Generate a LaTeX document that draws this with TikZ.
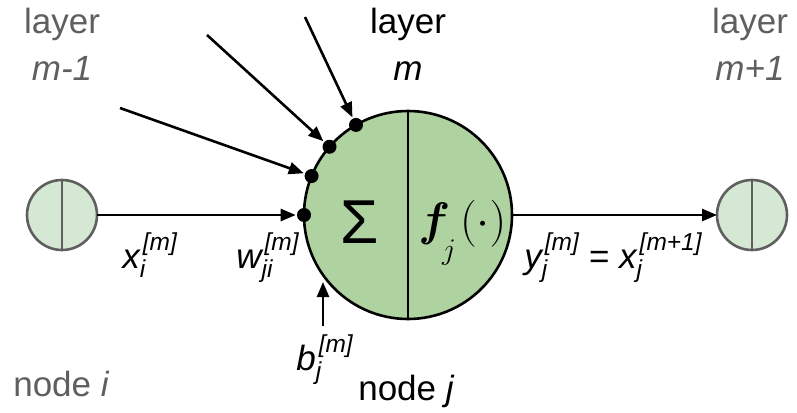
\RequirePackage{fix-cm}
\documentclass[tikz,border=0pt]{standalone}
\usepackage{amsmath}
\usepackage{bm}
\usepackage[no-math]{fontspec}
\setmainfont{Liberation Sans}
\usepackage{xcolor}
\usepackage{tikz}
\usetikzlibrary{arrows.meta, positioning, calc}

\definecolor{nodegreen}{HTML}{AED3A0}
\definecolor{nodelight}{HTML}{D5E8D4}
\definecolor{labgray}{HTML}{5F5F5F}

\newcommand{\sig}[3]{$\text{\itshape #1}^{\kern3pt\text{\itshape #3}}_{\text{\itshape #2}}$}

\begin{document}
\begin{tikzpicture}[x=1pt, y=-1pt, line width=2.6pt,
    every node/.style={font=\fontsize{35}{42}\selectfont},
    arr/.style={-{Triangle[length=15pt,width=12pt]}},
    dot/.style={circle,fill=black,inner sep=0pt,minimum size=14pt},
    lab/.style={anchor=base, inner sep=0pt}]
    \useasboundingbox (0,0) rectangle (797,412);
    % neurons
    \node[draw=labgray,circle,fill=nodelight,minimum size=70pt,inner sep=0pt,outer sep=0pt] (I) at (62,215) {};
    \node[draw,circle,fill=nodegreen,minimum size=208pt,inner sep=0pt,outer sep=0pt] (J) at (408,215) {};
    \node[draw=labgray,circle,fill=nodelight,minimum size=70pt,inner sep=0pt,outer sep=0pt] (K) at (752,215) {};
    \draw[labgray] (I.north) -- (I.south);
    \draw (J.north) -- (J.south);
    \draw[labgray] (K.north) -- (K.south);
    % weights
    \node[dot] (d1) at (J.180) {};
    \node[dot] (d2) at (J.158) {};
    \node[dot] (d3) at (J.139) {};
    \node[dot] (d4) at (J.120) {};
    \coordinate (s2) at (120,108);
    \coordinate (s3) at (207,35);
    \coordinate (s4) at (305,17);
    \coordinate (bs) at (323,326);
    \coordinate (bt) at (323,282);
    \draw[arr] (I) -- (d1);
    \draw[arr] (s2) -- (d2);
    \draw[arr] (s3) -- (d3);
    \draw[arr] (s4) -- (d4);
    \draw[arr] (bs) -- (bt);
    \draw[arr] (J) -- (K);
    % inside node j
    \node[lab,font=\fontsize{62}{66}\selectfont] (sum) at (360,243) {Σ};
    \node[lab,anchor=base west,font=\fontsize{47}{50}\selectfont] (act) at (417,235)
        {$\bm{f}\kern-8pt\lower24pt\hbox{\fontsize{30}{31}\selectfont$j$}\kern4pt(\cdot)$};
    % labels
    \node[lab,labgray] (lay1) at (62,34) {layer};
    \node[lab,labgray] (m1) at (62,81) {\itshape m-1};
    \node[lab] (lay2) at (408,34) {layer};
    \node[lab] (m2) at (408,81) {\itshape m};
    \node[lab,labgray] (lay3) at (750,34) {layer};
    \node[lab,labgray] (m3) at (750,81) {\itshape m+1};
    \node[lab,anchor=base west] (xi) at (121,268) {\sig{x}{i}{[m]}};
    \node[lab,anchor=base west] (wji) at (235,268) {\sig{w}{ji}{[m]}};
    \node[lab,anchor=base west] (yj) at (523,268) {\sig{y}{j}{[m]} = \sig{x}{j}{[m+1]}};
    \node[lab,anchor=base west] (bj) at (295,370) {\sig{b}{j}{[m]}};
    \node[lab,labgray,anchor=base west] (ni) at (12,396) {node \textit{i}};
    \node[lab,anchor=base west] (nj) at (357,400) {node \textit{j}};
\end{tikzpicture}
\end{document}
